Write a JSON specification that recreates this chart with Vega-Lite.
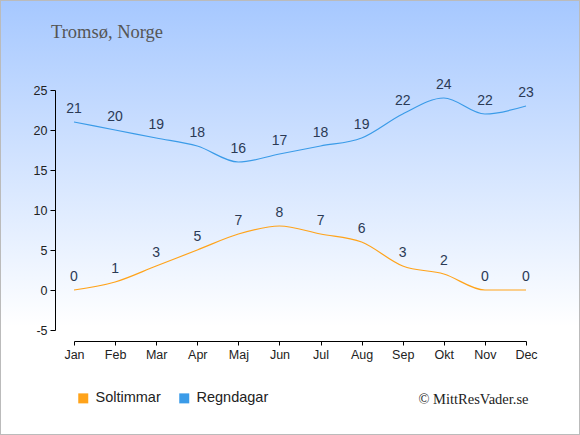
{
  "$schema": "https://vega.github.io/schema/vega-lite/v6.json",
  "width": 580,
  "height": 435,
  "autosize": "none",
  "padding": 0,
  "background": "white",
  "title": {
    "text": "Tromsø, Norge",
    "anchor": "start",
    "frame": "group",
    "orient": "top",
    "offset": -56,
    "baseline": "alphabetic",
    "dx": 51,
    "font": "Liberation Serif",
    "fontSize": 18.5,
    "fontWeight": "normal",
    "color": "#555555"
  },
  "config": {
    "view": {
      "fill": {
        "gradient": "linear",
        "x1": 0, "y1": 0, "x2": 0, "y2": 1,
        "stops": [
          {"offset": 0, "color": "#a6c8ff"},
          {"offset": 0.75, "color": "#ffffff"},
          {"offset": 1, "color": "#ffffff"}
        ]
      },
      "stroke": "#bbbbbb",
      "strokeWidth": 2
    },
    "axis": {
      "labelFont": "Liberation Sans",
      "labelFontSize": 12.5,
      "labelColor": "#222222",
      "domainColor": "#000000",
      "tickColor": "#000000",
      "grid": false
    }
  },
  "data": {
    "values": [
      {"Månad": "Jan", "Serie": "Soltimmar", "Värde": 0},
      {"Månad": "Feb", "Serie": "Soltimmar", "Värde": 1},
      {"Månad": "Mar", "Serie": "Soltimmar", "Värde": 3},
      {"Månad": "Apr", "Serie": "Soltimmar", "Värde": 5},
      {"Månad": "Maj", "Serie": "Soltimmar", "Värde": 7},
      {"Månad": "Jun", "Serie": "Soltimmar", "Värde": 8},
      {"Månad": "Jul", "Serie": "Soltimmar", "Värde": 7},
      {"Månad": "Aug", "Serie": "Soltimmar", "Värde": 6},
      {"Månad": "Sep", "Serie": "Soltimmar", "Värde": 3},
      {"Månad": "Okt", "Serie": "Soltimmar", "Värde": 2},
      {"Månad": "Nov", "Serie": "Soltimmar", "Värde": 0},
      {"Månad": "Dec", "Serie": "Soltimmar", "Värde": 0},
      {"Månad": "Jan", "Serie": "Regndagar", "Värde": 21},
      {"Månad": "Feb", "Serie": "Regndagar", "Värde": 20},
      {"Månad": "Mar", "Serie": "Regndagar", "Värde": 19},
      {"Månad": "Apr", "Serie": "Regndagar", "Värde": 18},
      {"Månad": "Maj", "Serie": "Regndagar", "Värde": 16},
      {"Månad": "Jun", "Serie": "Regndagar", "Värde": 17},
      {"Månad": "Jul", "Serie": "Regndagar", "Värde": 18},
      {"Månad": "Aug", "Serie": "Regndagar", "Värde": 19},
      {"Månad": "Sep", "Serie": "Regndagar", "Värde": 22},
      {"Månad": "Okt", "Serie": "Regndagar", "Värde": 24},
      {"Månad": "Nov", "Serie": "Regndagar", "Värde": 22},
      {"Månad": "Dec", "Serie": "Regndagar", "Värde": 23}
    ]
  },
  "encoding": {
    "x": {
      "field": "Månad",
      "type": "ordinal",
      "sort": null,
      "scale": {"type": "point", "range": [74, 526], "padding": 0},
      "axis": {
        "labelAngle": 0,
        "offset": -94,
        "tickSize": 4,
        "labelPadding": 3,
        "title": "© MittResVader.se",
        "titleFont": "Liberation Serif",
        "titleFontSize": 14.5,
        "titleFontWeight": "normal",
        "titleColor": "#222222",
        "titleAnchor": null,
        "titleAlign": "right",
        "titleBaseline": "alphabetic",
        "titleX": 528,
        "titleY": 62
      }
    },
    "y": {
      "field": "Värde",
      "type": "quantitative",
      "scale": {"domain": [-5, 25], "range": [330, 90], "nice": false, "zero": false},
      "axis": {
        "values": [-5, 0, 5, 10, 15, 20, 25],
        "labelExpr": "'' + datum.value",
        "offset": -55,
        "tickSize": 5,
        "labelPadding": 3,
        "title": null
      }
    }
  },
  "layer": [
    {
      "mark": {"type": "line", "interpolate": "monotone", "strokeWidth": 1.2},
      "encoding": {
        "color": {
          "field": "Serie",
          "type": "nominal",
          "sort": null,
          "scale": {"domain": ["Soltimmar", "Regndagar"], "range": ["#ffa31a", "#3a9be8"]},
          "legend": {
            "orient": "none",
            "legendX": 76,
            "legendY": 391,
            "direction": "horizontal",
            "title": null,
            "symbolType": "square",
            "symbolSize": 100,
            "labelFont": "Liberation Sans",
            "labelFontSize": 14.5,
            "labelColor": "#222222",
            "labelOffset": 5,
            "columnPadding": 16,
            "encode": {
              "symbols": {
                "update": {
                  "fill": {"scale": "color", "field": "value"},
                  "strokeWidth": {"value": 0}
                }
              }
            }
          }
        }
      }
    },
    {
      "mark": {"type": "text", "baseline": "middle", "dy": -13, "font": "Liberation Sans", "fontSize": 14, "color": "#2b3a55"},
      "encoding": {
        "text": {"field": "Värde", "type": "quantitative"}
      }
    }
  ]
}
